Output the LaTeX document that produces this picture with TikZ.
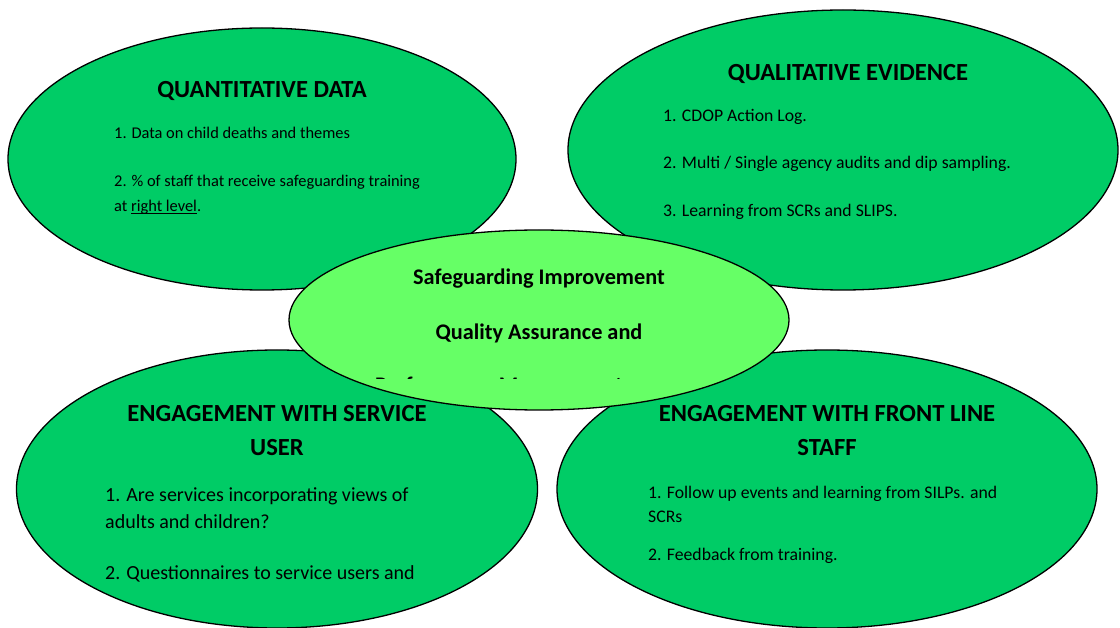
\documentclass[tikz,border=0pt]{standalone}
\usepackage{fontspec}
\setmainfont{Carlito}
\usetikzlibrary{shapes.geometric}
\definecolor{dkgreen}{RGB}{0,204,102}
\definecolor{ltgreen}{RGB}{102,255,102}
\newcommand\myul[1]{\setbox0\hbox{#1}\rlap{\rule[-1.8pt]{\wd0}{0.8pt}}\box0}
\tikzset{
  blob/.style={ellipse, draw=black, line width=1.3pt, fill=dkgreen, inner sep=0pt},
  hub/.style={blob, fill=ltgreen},
  head/.style={font=\fontsize{24.6}{28}\selectfont\bfseries, anchor=base, inner sep=0pt},
  hubtext/.style={font=\fontsize{22.3}{26}\selectfont\bfseries, anchor=base, inner sep=0pt},
  item/.style={anchor=base west, inner sep=0pt},
  sm/.style={item, font=\fontsize{16.4}{19}\selectfont},
  md/.style={item, font=\fontsize{17.7}{21}\selectfont},
  lg/.style={item, font=\fontsize{20}{24}\selectfont},
}
\begin{document}
\begin{tikzpicture}[x=1pt, y=-1pt]
\useasboundingbox (0,0) rectangle (1120,628);
% outer ellipses
\node[blob, minimum width=508pt, minimum height=262pt] (tl) at (262,159) {};
\node[blob, minimum width=550pt, minimum height=280pt] (tr) at (843,150) {};
\node[blob, minimum width=521pt, minimum height=278pt] (bl) at (277,489) {};
\node[blob, minimum width=540pt, minimum height=278pt] (br) at (827,489) {};
% top left
\node[head] (tlh) at (262,98) {QUANTITATIVE DATA};
\node[sm] (tl1) at (114,139) {1. Data on child deaths and themes};
\node[sm] (tl2) at (114,187) {2. \% of staff that receive safeguarding training};
\node[sm] (tl3) at (114,212) {at \myul{right level}.};
% top right
\node[head] (trh) at (848,81) {QUALITATIVE EVIDENCE};
\node[md] (tr1) at (663,122) {1. CDOP Action Log.};
\node[md] (tr2) at (663,169) {2. Multi / Single agency audits and dip sampling.};
\node[md] (tr3) at (663,217) {3. Learning from SCRs and SLIPS.};
% bottom left
\node[head] (blh1) at (277,421) {ENGAGEMENT WITH SERVICE};
\node[head] (blh2) at (277,455) {USER};
\node[lg] (bl1) at (105,501) {1. Are services incorporating views of};
\node[lg] (bl2) at (105,528) {adults and children?};
\node[lg] (bl3) at (105,579) {2. Questionnaires to service users and};
% bottom right
\node[head] (brh1) at (827,421) {ENGAGEMENT WITH FRONT LINE};
\node[head] (brh2) at (827,455) {STAFF};
\node[md] (br1) at (648,498) {1. Follow up events and learning from SILPs. and};
\node[md] (br2) at (648,522) {SCRs};
\node[md] (br3) at (648,560) {2. Feedback from training.};
% centre
\node[hub, minimum width=500pt, minimum height=180pt] (hub) at (539,320) {};
\node[hubtext] (hub1) at (539,285) {Safeguarding Improvement};
\node[hubtext] (hub2) at (539,340) {Quality Assurance and};
\begin{scope}
  \clip (289,230) rectangle (789,379);
  \node[hubtext] (hub3) at (499,393) {Performance Management};
\end{scope}
\end{tikzpicture}
\end{document}
